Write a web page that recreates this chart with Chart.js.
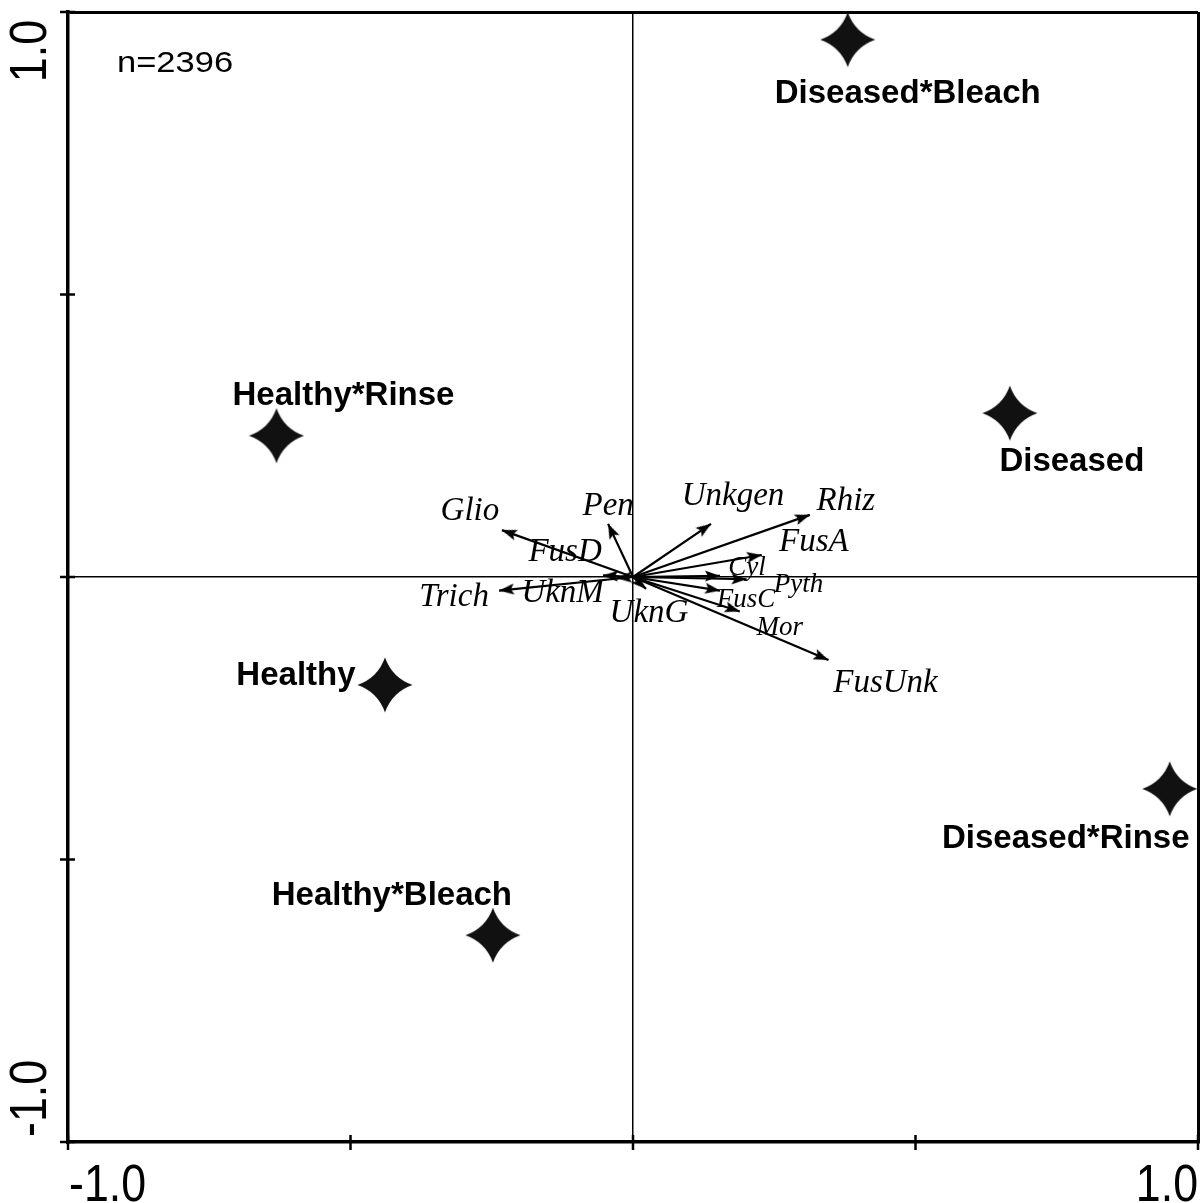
<!DOCTYPE html>
<html>
<head>
<meta charset="utf-8">
<title>CCA ordination biplot</title>
<script src="https://cdn.jsdelivr.net/npm/chart.js@4.4.0/dist/chart.umd.min.js"></script>
<style>
  html, body { margin: 0; padding: 0; background: #fff; }
  #wrap { width: 1204px; height: 1203px; }
</style>
</head>
<body>
<div id="wrap"><canvas id="biplot" width="1204" height="1203"></canvas></div>
<script>
// Treatment centroids (filled stars)
const siteNames = ['Diseased*Bleach', 'Diseased', 'Diseased*Rinse', 'Healthy*Rinse', 'Healthy', 'Healthy*Bleach'];
const siteX = [0.380, 0.667, 0.950, -0.631, -0.439, -0.248];
const siteY = [0.951, 0.290, -0.375, 0.250, -0.191, -0.634];

// Taxon vectors (arrows from the origin)
const taxaNames = ['Glio', 'Pen', 'FusD', 'Trich', 'UknM', 'UknG', 'Unkgen', 'Rhiz', 'FusA', 'Cyl', 'Pyth', 'FusC', 'Mor', 'FusUnk'];
const taxaX = [-0.232, -0.044, -0.053, -0.237, -0.029, 0.023, 0.138, 0.313, 0.228, 0.154, 0.201, 0.154, 0.189, 0.346];
const taxaY = [0.083, 0.094, 0.003, -0.024, -0.002, -0.021, 0.094, 0.110, 0.039, 0.002, -0.004, -0.024, -0.061, -0.147];

// Axis tick values and the labelled ends
const tickValues = [-1, -0.5, 0, 0.5, 1];
const endTicks = [-1, 1];
const endTickLabels = ['-1.0', '1.0'];
const sampleCount = 2396;

// ---- label placement (pixel offsets from each mark) ----
const siteLabelOffset = {
  'Diseased*Bleach': [60, 63], 'Diseased': [62, 58], 'Diseased*Rinse': [-104, 59],
  'Healthy*Rinse': [67, -31], 'Healthy': [-89, 0], 'Healthy*Bleach': [-101, -30]
};
const taxaLabelOffset = {
  Glio: [-32, -10], Pen: [0, -9], FusD: [-38, -14], Trich: [-45, 15], UknM: [-54, 24],
  UknG: [3, 33], Unkgen: [22, -19], Rhiz: [36, -5], FusA: [52, -4], Cyl: [27, -1],
  Pyth: [52, 13], FusC: [26, 16], Mor: [40, 24], FusUnk: [57, 32]
};
const smallTaxa = new Set(['Cyl', 'Pyth', 'FusC', 'Mor']);

// ---- point glyphs ----
function makeStar(r) {
  const s = 60, m = s / 2, k = r * 0.26;
  const c = document.createElement('canvas');
  c.width = s; c.height = s;
  const g = c.getContext('2d');
  g.beginPath();
  g.moveTo(m, m - r);
  g.quadraticCurveTo(m + k, m - k, m + r, m);
  g.quadraticCurveTo(m + k, m + k, m, m + r);
  g.quadraticCurveTo(m - k, m + k, m - r, m);
  g.quadraticCurveTo(m - k, m - k, m, m - r);
  g.closePath();
  g.fillStyle = '#111';
  g.fill();
  return c;
}
function makeArrowHead(len, half) {
  const s = 40, m = s / 2;
  const c = document.createElement('canvas');
  c.width = s; c.height = s;
  const g = c.getContext('2d');
  g.beginPath();
  g.moveTo(m, m);              // apex sits on the vector tip
  g.lineTo(m + half, m + len);
  g.lineTo(m, m + len - 3);
  g.lineTo(m - half, m + len);
  g.closePath();
  g.fillStyle = '#000';
  g.fill();
  return c;
}
const starGlyph = makeStar(27.5);
const arrowGlyph = makeArrowHead(15, 5.5);

function arrowRotation(ctx) {
  if (ctx.type !== 'data' || !ctx.raw) return 0;
  const xs = ctx.chart.scales.x, ys = ctx.chart.scales.y;
  const dx = xs.getPixelForValue(ctx.raw.x) - xs.getPixelForValue(0);
  const dy = ys.getPixelForValue(ctx.raw.y) - ys.getPixelForValue(0);
  return Math.atan2(dx, -dy) * 180 / Math.PI;
}

const taxaDatasets = taxaNames.map((name, i) => ({
  type: 'line',
  label: name,
  data: [{ x: 0, y: 0 }, { x: taxaX[i], y: taxaY[i] }],
  borderColor: '#000',
  borderWidth: 2.2,
  showLine: true,
  fill: false,
  pointRadius: [0, 6],
  pointStyle: arrowGlyph,
  pointRotation: arrowRotation,
  clip: false
}));

const siteDataset = {
  type: 'scatter',
  label: 'sites',
  data: siteNames.map((n, i) => ({ x: siteX[i], y: siteY[i] })),
  pointStyle: starGlyph,
  pointRadius: 27,
  clip: false
};

// ---- drawing helpers ----
const frameAndLabels = {
  id: 'frameAndLabels',
  afterDraw(chart) {
    const { ctx, chartArea: a } = chart;
    const xs = chart.scales.x, ys = chart.scales.y;
    ctx.save();

    // tick marks crossing the axes
    ctx.strokeStyle = '#000';
    ctx.lineWidth = 2.5;
    ctx.beginPath();
    tickValues.forEach(v => {
      const px = xs.getPixelForValue(v);
      ctx.moveTo(px, a.bottom - 7); ctx.lineTo(px, a.bottom + 8);
      const py = ys.getPixelForValue(v);
      ctx.moveTo(a.left - 8, py); ctx.lineTo(a.left + 7, py);
    });
    ctx.stroke();

    // end tick labels
    ctx.fillStyle = '#000';
    ctx.font = '52px "Liberation Sans", Arial, sans-serif';
    ctx.textBaseline = 'alphabetic';
    endTicks.forEach((v, i) => {
      const px = xs.getPixelForValue(v);
      ctx.save();
      ctx.translate(px + (v < 0 ? 1 : 0), 1201);
      ctx.scale(0.86, 1);
      ctx.textAlign = v < 0 ? 'left' : 'right';
      ctx.fillText(endTickLabels[i], 0, 0);
      ctx.restore();

      const py = ys.getPixelForValue(v);
      ctx.save();
      ctx.translate(46, v < 0 ? py - 5 : py + 8);
      ctx.rotate(-Math.PI / 2);
      ctx.scale(0.86, 1);
      ctx.textAlign = v < 0 ? 'left' : 'right';
      ctx.fillText(endTickLabels[i], 0, 0);
      ctx.restore();
    });

    // sample size note
    ctx.save();
    ctx.font = '30px "Liberation Sans", Arial, sans-serif';
    ctx.translate(a.left + 49, 72);
    ctx.scale(1.15, 1);
    ctx.textAlign = 'left';
    ctx.fillText('n=' + sampleCount, 0, 0);
    ctx.restore();

    // taxon labels
    taxaNames.forEach((name, i) => {
      const el = chart.getDatasetMeta(i).data[1];
      const off = taxaLabelOffset[name];
      ctx.font = 'italic ' + (smallTaxa.has(name) ? 27 : 33) + 'px "Liberation Serif", "Times New Roman", serif';
      ctx.textAlign = 'center';
      ctx.fillText(name, el.x + off[0], el.y + off[1]);
    });

    // treatment labels
    const siteMeta = chart.getDatasetMeta(taxaNames.length);
    ctx.font = 'bold 33px "Liberation Sans", Arial, sans-serif';
    ctx.textAlign = 'center';
    siteNames.forEach((name, i) => {
      const el = siteMeta.data[i];
      const off = siteLabelOffset[name];
      ctx.fillText(name, el.x + off[0], el.y + off[1]);
    });

    ctx.restore();
  }
};

function gridColor(ctx) {
  const v = ctx.tick && ctx.tick.value;
  return (v === 0 || v === 1) ? '#000' : 'rgba(0,0,0,0)';
}
function gridWidth(ctx) {
  const v = ctx.tick && ctx.tick.value;
  return v === 0 ? 1.5 : 3;
}
function fixedBox(size, horizontal) {
  return function (scale) {
    if (horizontal) scale.height = size; else scale.width = size;
    scale.paddingTop = 0; scale.paddingBottom = 0;
    scale.paddingLeft = 0; scale.paddingRight = 0;
  };
}

new Chart(document.getElementById('biplot'), {
  type: 'scatter',
  data: { datasets: [...taxaDatasets, siteDataset] },
  options: {
    responsive: false,
    animation: false,
    events: [],
    layout: { autoPadding: false, padding: { top: 12, right: 6, bottom: 0, left: 0 } },
    plugins: { legend: { display: false }, tooltip: { enabled: false } },
    scales: {
      x: {
        type: 'linear', min: -1, max: 1,
        ticks: { stepSize: 0.5, display: false },
        grid: { drawTicks: false, color: gridColor, lineWidth: gridWidth },
        border: { display: true, color: '#000', width: 3.5 },
        afterFit: fixedBox(61, true)
      },
      y: {
        type: 'linear', min: -1, max: 1,
        ticks: { stepSize: 0.5, display: false },
        grid: { drawTicks: false, color: gridColor, lineWidth: gridWidth },
        border: { display: true, color: '#000', width: 3.5 },
        afterFit: fixedBox(68, false)
      }
    }
  },
  plugins: [frameAndLabels]
});
</script>
</body>
</html>
